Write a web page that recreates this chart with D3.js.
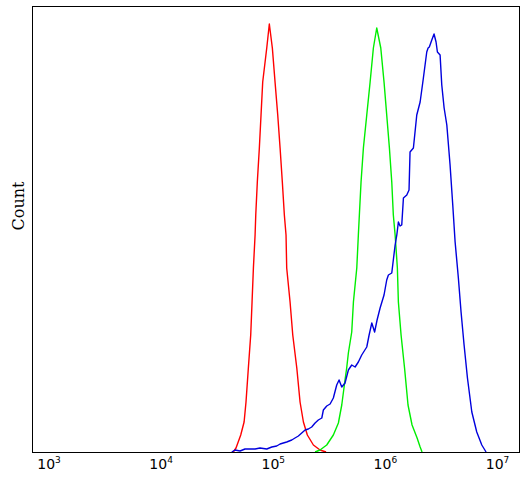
<!DOCTYPE html>
<html>
<head>
<meta charset="utf-8">
<script src="https://cdn.jsdelivr.net/npm/d3@7"></script>
<style>
  html, body { margin: 0; padding: 0; background: #fff; }
  svg { display: block; }
</style>
</head>
<body>
<svg id="chart" width="527" height="481"></svg>
<script>
// ---- Data (x as log10 of intensity, y as count) ----
const tickExponents = [3, 4, 5, 6, 7];
const yLabel = "Count";

const redSeries = [
  [4.644,0],[4.668,4],[4.710,17],[4.740,30],[4.757,50],[4.778,84],[4.799,117],[4.811,150],
  [4.823,184],[4.838,217],[4.844,237],[4.858,270],[4.876,304],[4.891,337],[4.906,370],
  [4.942,404],[4.965,428],[4.992,404],[5.016,370],[5.040,337],[5.061,304],[5.081,270],
  [5.099,237],[5.114,217],[5.120,184],[5.150,150],[5.174,117],[5.210,84],[5.239,50],
  [5.269,30],[5.304,17],[5.358,7],[5.417,2],[5.471,0]
];

const greenSeries = [
  [5.373,0],[5.417,2],[5.477,7],[5.536,17],[5.581,29],[5.611,47],[5.640,72],[5.655,84],
  [5.670,99],[5.700,120],[5.715,150],[5.745,184],[5.759,217],[5.768,237],[5.783,270],
  [5.804,304],[5.834,337],[5.864,370],[5.893,404],[5.923,424],[5.959,404],[5.988,370],
  [6.012,337],[6.036,304],[6.057,270],[6.071,237],[6.087,217],[6.107,184],[6.116,150],
  [6.140,117],[6.171,84],[6.202,47],[6.238,27],[6.283,14],[6.310,5],[6.327,0]
];

const blueSeries = [
  [4.630,0],[4.659,2],[4.704,1],[4.748,3],[4.793,3],[4.838,3],[4.882,4],[4.942,3],
  [4.987,5],[5.031,6],[5.061,8],[5.090,9],[5.120,10],[5.165,12],[5.194,14],[5.224,16],
  [5.254,19],[5.284,22],[5.313,23],[5.343,25],[5.373,29],[5.402,32],[5.433,34],[5.447,42],
  [5.477,46],[5.507,48],[5.536,54],[5.566,67],[5.587,72],[5.611,65],[5.640,69],[5.670,82],
  [5.700,87],[5.730,85],[5.759,90],[5.789,97],[5.834,105],[5.855,117],[5.879,129],
  [5.904,120],[5.926,132],[5.953,144],[5.988,157],[6.012,172],[6.027,177],[6.057,179],
  [6.073,194],[6.087,207],[6.102,217],[6.116,230],[6.131,226],[6.146,227],[6.161,254],
  [6.191,257],[6.211,262],[6.220,300],[6.250,304],[6.280,337],[6.310,350],[6.339,374],
  [6.369,400],[6.381,404],[6.392,405],[6.414,412],[6.434,418],[6.452,410],[6.464,400],
  [6.488,397],[6.503,367],[6.524,344],[6.548,327],[6.577,287],[6.601,247],[6.622,210],
  [6.651,174],[6.675,140],[6.702,107],[6.732,74],[6.771,40],[6.815,20],[6.860,7],[6.898,0]
];

const seriesList = [
  { name: "red", color: "#ff0000", data: redSeries },
  { name: "green", color: "#00ee00", data: greenSeries },
  { name: "blue", color: "#0000dd", data: blueSeries }
];

// ---- Layout ----
const frame = { left: 32, top: 6, right: 519, bottom: 452 };
const svg = d3.select("#chart");

const x = d3.scaleLog().domain([1e3, 1e7]).range([49, 497.5]);
const y = d3.scaleLinear().domain([0, 446]).range([frame.bottom, frame.top]);

const line = d3.line()
  .x(d => x(Math.pow(10, d[0])))
  .y(d => y(d[1]));

// curves
svg.append("g")
  .selectAll("path")
  .data(seriesList)
  .join("path")
  .attr("d", s => line(s.data))
  .attr("fill", "none")
  .attr("stroke", s => s.color)
  .attr("stroke-width", 1.4)
  .attr("stroke-linejoin", "round");

// frame
svg.append("rect")
  .attr("x", frame.left + 0.5)
  .attr("y", frame.top + 0.5)
  .attr("width", frame.right - frame.left)
  .attr("height", frame.bottom - frame.top)
  .attr("fill", "none")
  .attr("stroke", "#000")
  .attr("stroke-width", 1);

// x tick labels
const tickG = svg.append("g");
tickExponents.forEach(e => {
  const t = tickG.append("text")
    .attr("x", x(Math.pow(10, e)))
    .attr("y", 469)
    .attr("text-anchor", "middle")
    .attr("font-family", "DejaVu Sans, Verdana, sans-serif")
    .attr("font-size", 14)
    .attr("fill", "#000");
  t.append("tspan").text("10");
  t.append("tspan")
    .attr("dy", -6)
    .attr("font-size", 9)
    .text(String(e));
});

// y label
svg.append("text")
  .attr("transform", "translate(24,206) rotate(-90)")
  .attr("text-anchor", "middle")
  .attr("font-family", "DejaVu Serif, serif")
  .attr("font-size", 16)
  .attr("fill", "#000")
  .text(yLabel);
</script>
</body>
</html>
